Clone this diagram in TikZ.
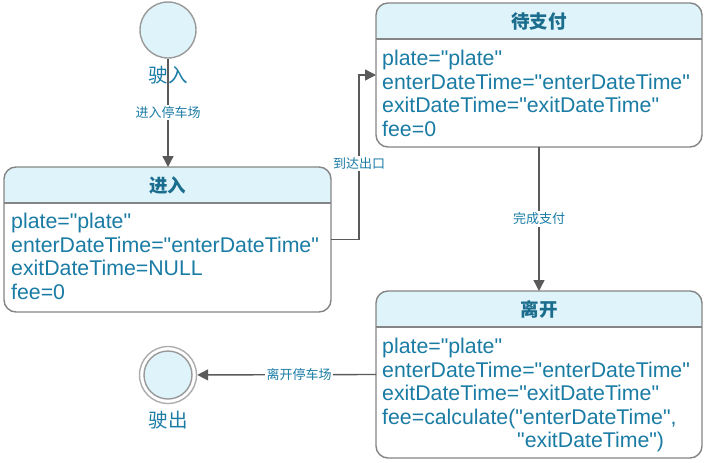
\documentclass[tikz,border=0pt]{standalone}
\usepackage{fontspec}
\setmainfont{Liberation Sans}[Ligatures=TeXOff]
\newfontfamily\cjk{Noto Sans CJK SC}
\usetikzlibrary{arrows.meta}
\definecolor{txt}{HTML}{1A7CA5}
\definecolor{hdtxt}{HTML}{1B6D8D}
\definecolor{hdr}{HTML}{DEF3FA}
\definecolor{bord}{HTML}{858585}
\definecolor{ring}{HTML}{999999}
\definecolor{edgec}{HTML}{5A5A5A}
\tikzset{
  stbox/.style={rounded corners=12pt, fill=white, inner sep=0pt, outer sep=0pt, anchor=north west},
  bline/.style={draw=bord, line width=1.4pt},
  ttl/.style={text=hdtxt, font=\cjk\bfseries\fontsize{18.5}{21}\selectfont, inner sep=0pt},
  body/.style={text=txt, font=\fontsize{21.3}{23.5}\selectfont, align=left, inner sep=0pt, anchor=north west},
  elabel/.style={fill=white, text=txt, font=\cjk\fontsize{13}{15}\selectfont, inner sep=1.5pt},
  conn/.style={draw=edgec, line width=1.4pt, -{Triangle[length=11pt,width=11pt]}},
  cname/.style={text=txt, font=\cjk\fontsize{19.5}{22}\selectfont, inner sep=0pt},
}
\newcommand\mkstate[6]{%
  \node[stbox, minimum width=#4, minimum height=#5] (#1) at (#2,#3) {};
  \begin{scope}
    \clip[rounded corners=12pt] (#1.north west) rectangle (#1.south east);
    \fill[hdr] (#1.north west) rectangle ([yshift=-36pt]#1.north east);
  \end{scope}
  \draw[bline] ([yshift=-36pt]#1.north west) -- ([yshift=-36pt]#1.north east);
  \draw[bline, rounded corners=12pt] (#1.north west) rectangle (#1.south east);
  \node[ttl] (#1-t) at ([yshift=-18pt]#1.north) {#6};
}
\begin{document}
\begin{tikzpicture}[x=1pt, y=-1pt]
\useasboundingbox (0,0) rectangle (704,463);
% start
\node[circle, draw=ring, line width=1.4pt, fill=hdr, minimum size=56pt, inner sep=0pt] (start) at (168,30) {};
\node[cname] (startl) at (168,75) {驶入};
% end
\node[circle, draw=ring!80, line width=1.4pt, fill=white, minimum size=57pt, inner sep=0pt] (end) at (168,375) {};
\node[circle, draw=ring, line width=1.4pt, fill=hdr, minimum size=48pt, inner sep=0pt] (endin) at (168,375) {};
\node[cname] (endl) at (168,420) {驶出};
% states
\mkstate{in}{4}{167}{327}{145}{进入}
\node[body] (in-b) at (11,213) {plate="plate"\\enterDateTime="enterDateTime"\\exitDateTime=NULL\\fee=0};
\mkstate{dai}{376}{3}{326}{144}{待支付}
\node[body] (dai-b) at (382,50) {plate="plate"\\enterDateTime="enterDateTime"\\exitDateTime="exitDateTime"\\fee=0};
\mkstate{li}{376}{291}{326}{167}{离开}
\node[body] (li-b) at (382,338) {plate="plate"\\enterDateTime="enterDateTime"\\exitDateTime="exitDateTime"\\fee=calculate("enterDateTime",\\\hspace*{135pt}"exitDateTime")};
% connectors
\draw[conn] (start.south) -- node[elabel] {进入停车场} (start.south |- in.north);
\draw[conn] (in.east) -- ++(28,0) |- node[elabel, pos=0.23] {到达出口} (dai.west);
\draw[conn] (dai.south) -- node[elabel] {完成支付} (li.north);
\draw[conn] (li.west) -- node[elabel, pos=0.43] {离开停车场} (end);
\end{tikzpicture}
\end{document}
